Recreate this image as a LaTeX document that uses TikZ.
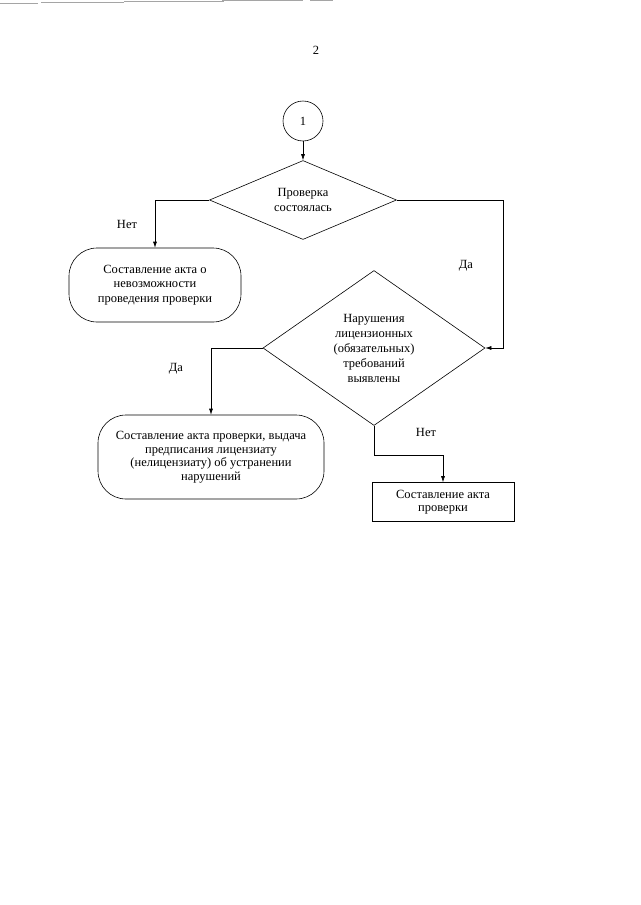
\documentclass[tikz,border=0pt]{standalone}
\usepackage{fontspec}
\setmainfont{Liberation Serif}
\usepackage{tikz}
\usetikzlibrary{shapes.geometric, arrows.meta, positioning, calc}
\definecolor{ScanGray}{RGB}{165, 165, 165}

\begin{document}
\begin{tikzpicture}[x=1pt, y=-1pt, line width=0.6pt,
    font=\fontsize{12.5}{14.5}\selectfont,
    arr/.style={-{Latex[length=6pt, width=4pt]}},
    decision/.style={draw, diamond, inner sep=0pt, align=center},
    termbox/.style={draw, rectangle, rounded corners=28pt, align=center, inner sep=0pt},
    actbox/.style={draw, rectangle, align=center, inner sep=0pt}]
    \useasboundingbox (0,0) rectangle (640,905);

    % следы скана сверху
    \draw[ScanGray, line width=1pt] (0,3.5) -- (38,3.5);
    \draw[ScanGray, line width=1pt] (41,2.4) -- (124,2.4);
    \draw[ScanGray, line width=1pt] (124,1.4) -- (224,1.4);
    \draw[ScanGray, line width=1pt] (222,0.6) -- (303,0.6);
    \draw[ScanGray, line width=1pt] (310,0.6) -- (333,0.6);

    % номер страницы
    \node (pagenum) at (316,50) {2};

    % 1. соединитель
    \node[draw, circle, minimum size=40pt, inner sep=0pt] (start) at (303,121) {1};

    % 2. первая проверка
    \node[decision, aspect=2.37, minimum width=187pt, minimum height=79pt] (held) at (303,200)
        {Проверка\\состоялась};

    % 3. акт о невозможности
    \node[termbox, minimum width=172pt, minimum height=74pt] (impossible) at (155,285)
        {Составление акта о\\невозможности\\проведения проверки};

    % 4. нарушения
    \node[decision, aspect=1.43, minimum width=222pt, minimum height=155pt,
        font=\fontsize{12.5}{15}\selectfont] (violations) at (374,348)
        {Нарушения\\лицензионных\\(обязательных)\\требований\\выявлены};

    % 5. акт с предписанием
    \node[termbox, minimum width=226pt, minimum height=84pt,
        font=\fontsize{12.5}{13.5}\selectfont] (order) at (211,457)
        {Составление акта проверки, выдача\\предписания лицензиату\\(нелицензиату) об устранении\\нарушений};

    % 6. акт проверки
    \node[actbox, minimum width=142pt, minimum height=39pt,
        font=\fontsize{12.5}{13.5}\selectfont] (report) at (443,502)
        {Составление акта\\проверки};

    % соединители
    \coordinate (turnR) at (503,200);
    \coordinate (turnN) at (374,455);
    \draw[arr] (start) -- (held);
    \draw[arr] (held.west) -| (impossible.north);
    \draw[arr] (held.east) -- (turnR) |- (violations.east);
    \draw[arr] (violations.west) -| (order.north);
    \draw[arr] (violations.south) -- (turnN) -| (report.north);

    % подписи ветвей
    \node (noA) at (127,224) {Нет};
    \node (yesA) at (466,266) {Да};
    \node (yesB) at (176,369) {Да};
    \node (noB) at (426,432) {Нет};
\end{tikzpicture}
\end{document}
